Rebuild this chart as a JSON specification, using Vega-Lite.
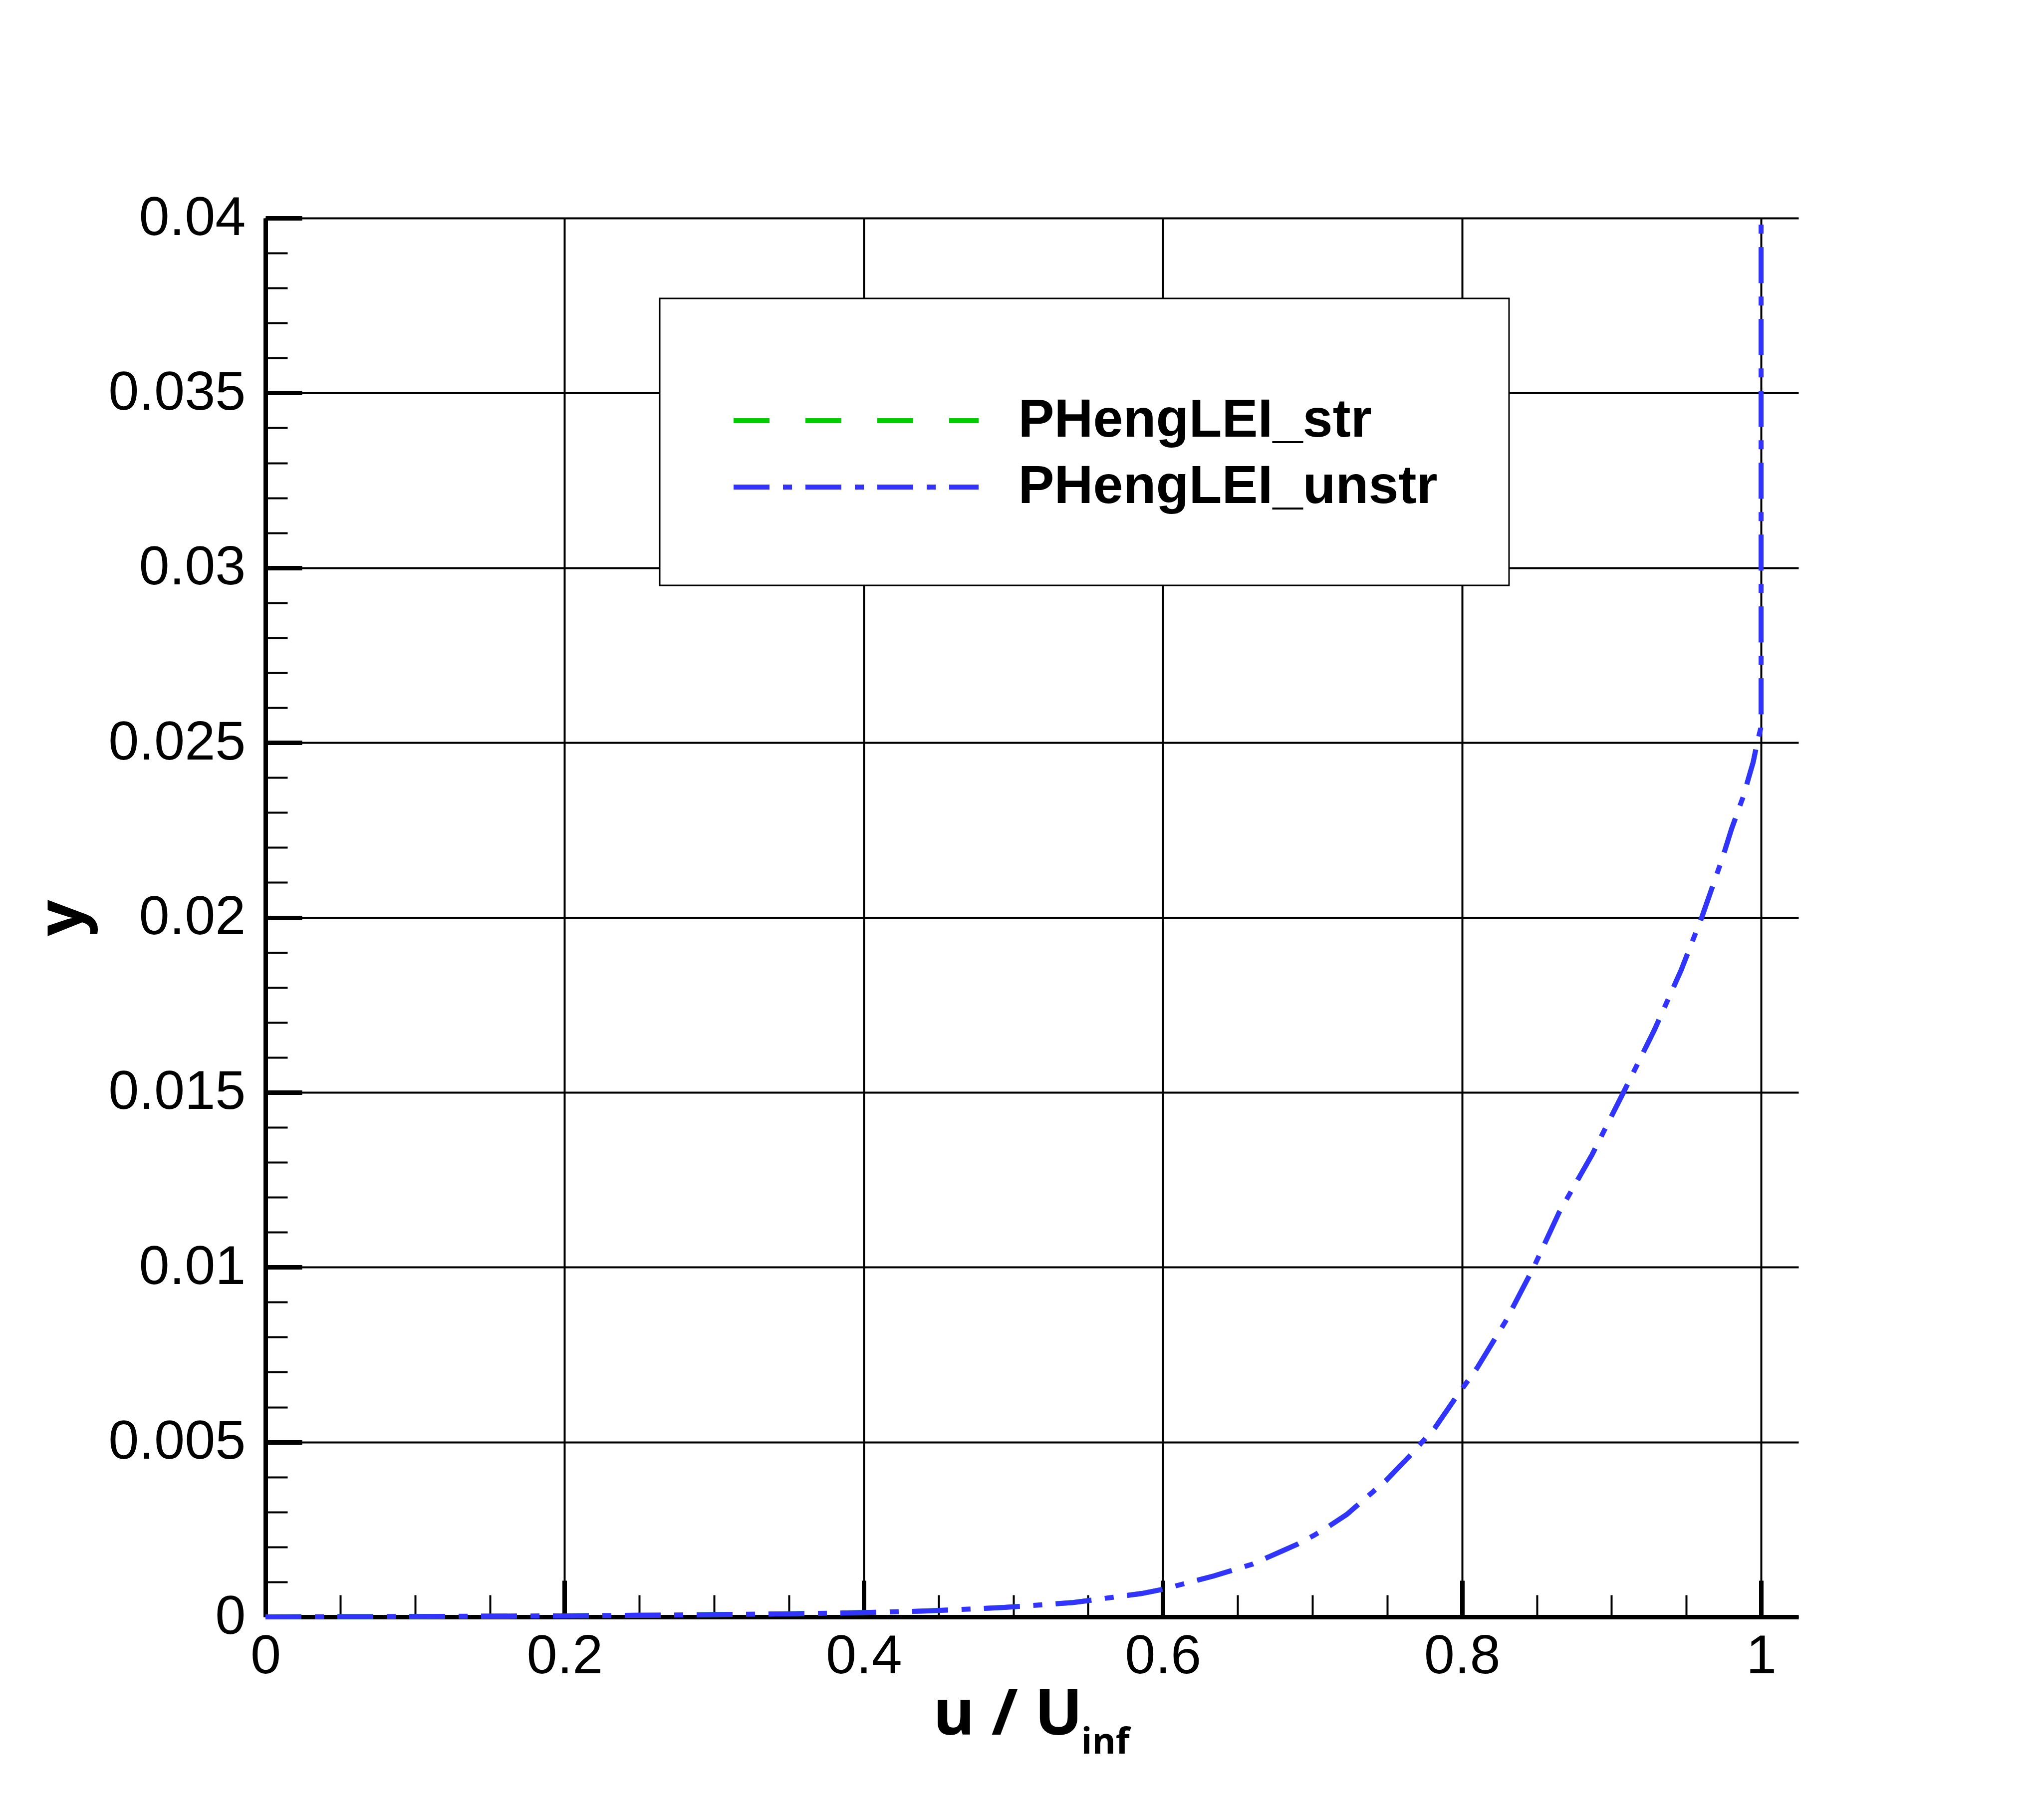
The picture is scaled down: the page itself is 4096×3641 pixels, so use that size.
{
  "$schema": "https://vega.github.io/schema/vega-lite/v6.json",
  "width": 3072,
  "height": 2803,
  "autosize": {"type": "none"},
  "padding": {"left": 532, "top": 437, "right": 492, "bottom": 401},
  "background": "white",
  "config": {
    "view": {"stroke": null},
    "legend": {"strokeWidth": 3}
  },
  "data": {
    "values": [
      {"series": "PHengLEI_str", "u": 0, "y": 0},
      {"series": "PHengLEI_str", "u": 0.1, "y": 0.000012},
      {"series": "PHengLEI_str", "u": 0.2, "y": 0.00003},
      {"series": "PHengLEI_str", "u": 0.29, "y": 0.00006},
      {"series": "PHengLEI_str", "u": 0.353, "y": 0.00009},
      {"series": "PHengLEI_str", "u": 0.397, "y": 0.00012},
      {"series": "PHengLEI_str", "u": 0.443, "y": 0.00017},
      {"series": "PHengLEI_str", "u": 0.494, "y": 0.00027},
      {"series": "PHengLEI_str", "u": 0.54, "y": 0.00041},
      {"series": "PHengLEI_str", "u": 0.586, "y": 0.00067},
      {"series": "PHengLEI_str", "u": 0.6, "y": 0.00079},
      {"series": "PHengLEI_str", "u": 0.634, "y": 0.00117},
      {"series": "PHengLEI_str", "u": 0.66, "y": 0.00151},
      {"series": "PHengLEI_str", "u": 0.68, "y": 0.00189},
      {"series": "PHengLEI_str", "u": 0.69, "y": 0.00208},
      {"series": "PHengLEI_str", "u": 0.701, "y": 0.00233},
      {"series": "PHengLEI_str", "u": 0.711, "y": 0.00259},
      {"series": "PHengLEI_str", "u": 0.723, "y": 0.00293},
      {"series": "PHengLEI_str", "u": 0.733, "y": 0.0033},
      {"series": "PHengLEI_str", "u": 0.749, "y": 0.00389},
      {"series": "PHengLEI_str", "u": 0.765, "y": 0.0046},
      {"series": "PHengLEI_str", "u": 0.774, "y": 0.00503},
      {"series": "PHengLEI_str", "u": 0.782, "y": 0.00541},
      {"series": "PHengLEI_str", "u": 0.796, "y": 0.00628},
      {"series": "PHengLEI_str", "u": 0.81, "y": 0.00711},
      {"series": "PHengLEI_str", "u": 0.829, "y": 0.00844},
      {"series": "PHengLEI_str", "u": 0.848, "y": 0.01},
      {"series": "PHengLEI_str", "u": 0.865, "y": 0.01157},
      {"series": "PHengLEI_str", "u": 0.887, "y": 0.01322},
      {"series": "PHengLEI_str", "u": 0.908, "y": 0.015},
      {"series": "PHengLEI_str", "u": 0.9285, "y": 0.01677},
      {"series": "PHengLEI_str", "u": 0.9465, "y": 0.01849},
      {"series": "PHengLEI_str", "u": 0.9603, "y": 0.02},
      {"series": "PHengLEI_str", "u": 0.9741, "y": 0.02169},
      {"series": "PHengLEI_str", "u": 0.9803, "y": 0.02254},
      {"series": "PHengLEI_str", "u": 0.988, "y": 0.02345},
      {"series": "PHengLEI_str", "u": 0.9947, "y": 0.02444},
      {"series": "PHengLEI_str", "u": 0.9975, "y": 0.02502},
      {"series": "PHengLEI_str", "u": 0.9997, "y": 0.0254},
      {"series": "PHengLEI_str", "u": 1.0, "y": 0.0258},
      {"series": "PHengLEI_str", "u": 1.0, "y": 0.028},
      {"series": "PHengLEI_str", "u": 1.0, "y": 0.032},
      {"series": "PHengLEI_str", "u": 1.0, "y": 0.036},
      {"series": "PHengLEI_str", "u": 1.0, "y": 0.04},
      {"series": "PHengLEI_unstr", "u": 0, "y": 0},
      {"series": "PHengLEI_unstr", "u": 0.1, "y": 0.000012},
      {"series": "PHengLEI_unstr", "u": 0.2, "y": 0.00003},
      {"series": "PHengLEI_unstr", "u": 0.29, "y": 0.00006},
      {"series": "PHengLEI_unstr", "u": 0.353, "y": 0.00009},
      {"series": "PHengLEI_unstr", "u": 0.397, "y": 0.00012},
      {"series": "PHengLEI_unstr", "u": 0.443, "y": 0.00017},
      {"series": "PHengLEI_unstr", "u": 0.494, "y": 0.00027},
      {"series": "PHengLEI_unstr", "u": 0.54, "y": 0.00041},
      {"series": "PHengLEI_unstr", "u": 0.586, "y": 0.00067},
      {"series": "PHengLEI_unstr", "u": 0.6, "y": 0.00079},
      {"series": "PHengLEI_unstr", "u": 0.634, "y": 0.00117},
      {"series": "PHengLEI_unstr", "u": 0.66, "y": 0.00151},
      {"series": "PHengLEI_unstr", "u": 0.68, "y": 0.00189},
      {"series": "PHengLEI_unstr", "u": 0.69, "y": 0.00208},
      {"series": "PHengLEI_unstr", "u": 0.701, "y": 0.00233},
      {"series": "PHengLEI_unstr", "u": 0.711, "y": 0.00259},
      {"series": "PHengLEI_unstr", "u": 0.723, "y": 0.00293},
      {"series": "PHengLEI_unstr", "u": 0.733, "y": 0.0033},
      {"series": "PHengLEI_unstr", "u": 0.749, "y": 0.00389},
      {"series": "PHengLEI_unstr", "u": 0.765, "y": 0.0046},
      {"series": "PHengLEI_unstr", "u": 0.774, "y": 0.00503},
      {"series": "PHengLEI_unstr", "u": 0.782, "y": 0.00541},
      {"series": "PHengLEI_unstr", "u": 0.796, "y": 0.00628},
      {"series": "PHengLEI_unstr", "u": 0.81, "y": 0.00711},
      {"series": "PHengLEI_unstr", "u": 0.829, "y": 0.00844},
      {"series": "PHengLEI_unstr", "u": 0.848, "y": 0.01},
      {"series": "PHengLEI_unstr", "u": 0.865, "y": 0.01157},
      {"series": "PHengLEI_unstr", "u": 0.887, "y": 0.01322},
      {"series": "PHengLEI_unstr", "u": 0.908, "y": 0.015},
      {"series": "PHengLEI_unstr", "u": 0.9285, "y": 0.01677},
      {"series": "PHengLEI_unstr", "u": 0.9465, "y": 0.01849},
      {"series": "PHengLEI_unstr", "u": 0.9603, "y": 0.02},
      {"series": "PHengLEI_unstr", "u": 0.9741, "y": 0.02169},
      {"series": "PHengLEI_unstr", "u": 0.9803, "y": 0.02254},
      {"series": "PHengLEI_unstr", "u": 0.988, "y": 0.02345},
      {"series": "PHengLEI_unstr", "u": 0.9947, "y": 0.02444},
      {"series": "PHengLEI_unstr", "u": 0.9975, "y": 0.02502},
      {"series": "PHengLEI_unstr", "u": 0.9997, "y": 0.0254},
      {"series": "PHengLEI_unstr", "u": 1.0, "y": 0.0258},
      {"series": "PHengLEI_unstr", "u": 1.0, "y": 0.028},
      {"series": "PHengLEI_unstr", "u": 1.0, "y": 0.032},
      {"series": "PHengLEI_unstr", "u": 1.0, "y": 0.036},
      {"series": "PHengLEI_unstr", "u": 1.0, "y": 0.04}
    ]
  },
  "layer": [
    {
      "transform": [{"filter": "datum.series === 'PHengLEI_str'"}],
      "mark": {"type": "line", "opacity": 0},
      "encoding": {
        "x": {
          "field": "u", "type": "quantitative",
          "scale": {"domain": [0, 1.025], "nice": false, "zero": false},
          "axis": {
            "orient": "bottom",
            "values": [0.05, 0.1, 0.15, 0.25, 0.3, 0.35, 0.45, 0.5, 0.55, 0.65, 0.7, 0.75, 0.85, 0.9, 0.95],
            "domain": false, "labels": false, "grid": false,
            "ticks": true, "tickSize": -44, "tickWidth": 4, "tickColor": "black", "tickOpacity": 1,
            "title": null
          }
        },
        "y": {
          "field": "y", "type": "quantitative",
          "scale": {"domain": [0, 0.04], "nice": false, "zero": false},
          "axis": {
            "orient": "left",
            "values": [0.001, 0.002, 0.003, 0.004, 0.006, 0.007, 0.008, 0.009, 0.011, 0.012, 0.013, 0.014, 0.016, 0.017, 0.018, 0.019, 0.021, 0.022, 0.023, 0.024, 0.026, 0.027, 0.028, 0.029, 0.031, 0.032, 0.033, 0.034, 0.036, 0.037, 0.038, 0.039],
            "domain": false, "labels": false, "grid": false,
            "ticks": true, "tickSize": -44, "tickWidth": 4, "tickColor": "black", "tickOpacity": 1,
            "title": null
          }
        },
        "order": {"field": "y", "type": "quantitative"}
      }
    },
    {
      "transform": [{"filter": "datum.series === 'PHengLEI_str'"}],
      "mark": {"type": "line", "strokeWidth": 10, "strokeCap": "butt"},
      "encoding": {
        "x": {
          "field": "u", "type": "quantitative",
          "scale": {"domain": [0, 1.025], "nice": false, "zero": false},
          "axis": {
            "orient": "bottom",
            "values": [0, 0.2, 0.4, 0.6, 0.8, 1],
            "domain": false, "labels": false,
            "ticks": true, "tickSize": -73, "tickWidth": 9, "tickColor": "black", "tickOpacity": 1,
            "grid": true, "gridColor": "black", "gridWidth": 4, "gridOpacity": 1,
            "title": "inf", "titleFont": "Open Sans", "titleFontWeight": "bold", "titleFontSize": 72,
            "titleColor": "black", "titleX": 1634, "titleY": 273, "titleAlign": "left", "titleBaseline": "alphabetic"
          }
        },
        "y": {
          "field": "y", "type": "quantitative",
          "scale": {"domain": [0, 0.04], "nice": false, "zero": false},
          "axis": {
            "orient": "left",
            "values": [0, 0.005, 0.01, 0.015, 0.02, 0.025, 0.03, 0.035, 0.04],
            "domain": false, "labels": false,
            "ticks": true, "tickSize": -73, "tickWidth": 9, "tickColor": "black", "tickOpacity": 1,
            "grid": true, "gridColor": "black", "gridWidth": 4, "gridOpacity": 1,
            "title": null
          }
        },
        "color": {
          "field": "series", "type": "nominal",
          "scale": {"domain": ["PHengLEI_str", "PHengLEI_unstr"], "range": ["#00CC00", "#3333FF"]},
          "legend": {
            "orient": "none", "legendX": 790, "legendY": 161,
            "title": " ", "titleFontSize": 31, "titlePadding": 12,
            "padding": 143, "fillColor": "white", "strokeColor": "black",
            "symbolType": "M-4.546,0H4.546", "symbolSize": 11664, "symbolStrokeWidth": 10, "symbolOpacity": 1,
            "symbolOffset": 191.5,
            "labelFont": "Liberation Sans", "labelFontWeight": "bold", "labelFontSize": 108,
            "labelColor": "black", "labelLimit": 3000, "labelOffset": 266, "rowPadding": 20
          }
        },
        "strokeDash": {
          "field": "series", "type": "nominal",
          "scale": {"domain": ["PHengLEI_str", "PHengLEI_unstr"], "range": [[72, 72], [72, 27, 18, 27]]},
          "legend": {
            "orient": "none", "legendX": 790, "legendY": 161,
            "title": " ", "titleFontSize": 31, "titlePadding": 12,
            "padding": 143, "fillColor": "white", "strokeColor": "black",
            "symbolType": "M-4.546,0H4.546", "symbolSize": 11664, "symbolStrokeWidth": 10, "symbolOpacity": 1,
            "symbolOffset": 191.5,
            "labelFont": "Liberation Sans", "labelFontWeight": "bold", "labelFontSize": 108,
            "labelColor": "black", "labelLimit": 3000, "labelOffset": 266, "rowPadding": 20
          }
        },
        "order": {"field": "y", "type": "quantitative"}
      }
    },
    {
      "transform": [{"filter": "datum.series === 'PHengLEI_unstr'"}],
      "mark": {"type": "line", "strokeWidth": 10, "strokeCap": "butt"},
      "encoding": {
        "x": {
          "field": "u", "type": "quantitative",
          "scale": {"domain": [0, 1.025], "nice": false, "zero": false},
          "axis": {
            "orient": "bottom",
            "values": [0, 0.2, 0.4, 0.6, 0.8, 1],
            "format": "~g",
            "domain": true, "domainColor": "black", "domainWidth": 9, "domainOpacity": 1,
            "ticks": false, "tickSize": 0, "grid": false,
            "labels": true, "labelFont": "Liberation Sans", "labelFontSize": 110, "labelColor": "black",
            "labelPadding": 25, "labelFlush": false, "labelOverlap": false, "labelBound": false, "labelLimit": 1000,
            "title": "u / U", "titleFont": "Open Sans", "titleFontWeight": "bold", "titleFontSize": 128,
            "titleColor": "black", "titleX": 1487, "titleY": 235, "titleAlign": "center", "titleBaseline": "alphabetic"
          }
        },
        "y": {
          "field": "y", "type": "quantitative",
          "scale": {"domain": [0, 0.04], "nice": false, "zero": false},
          "axis": {
            "orient": "left",
            "values": [0, 0.005, 0.01, 0.015, 0.02, 0.025, 0.03, 0.035, 0.04],
            "format": "~g",
            "domain": true, "domainColor": "black", "domainWidth": 9, "domainOpacity": 1,
            "ticks": false, "tickSize": 0, "grid": false,
            "labels": true, "labelFont": "Liberation Sans", "labelFontSize": 110, "labelColor": "black",
            "labelPadding": 40, "labelFlush": false, "labelOverlap": false, "labelBound": false, "labelLimit": 1000,
            "title": "y", "titleFont": "Open Sans", "titleFontWeight": "bold", "titleFontSize": 128,
            "titleColor": "black", "titleX": -368, "titleY": 1402, "titleAngle": 270,
            "titleAlign": "center", "titleBaseline": "alphabetic"
          }
        },
        "color": {
          "field": "series", "type": "nominal",
          "scale": {"domain": ["PHengLEI_str", "PHengLEI_unstr"], "range": ["#00CC00", "#3333FF"]},
          "legend": {
            "orient": "none", "legendX": 790, "legendY": 161,
            "title": " ", "titleFontSize": 31, "titlePadding": 12,
            "padding": 143, "fillColor": "white", "strokeColor": "black",
            "symbolType": "M-4.546,0H4.546", "symbolSize": 11664, "symbolStrokeWidth": 10, "symbolOpacity": 1,
            "symbolOffset": 191.5,
            "labelFont": "Liberation Sans", "labelFontWeight": "bold", "labelFontSize": 108,
            "labelColor": "black", "labelLimit": 3000, "labelOffset": 266, "rowPadding": 20
          }
        },
        "strokeDash": {
          "field": "series", "type": "nominal",
          "scale": {"domain": ["PHengLEI_str", "PHengLEI_unstr"], "range": [[72, 72], [72, 27, 18, 27]]},
          "legend": {
            "orient": "none", "legendX": 790, "legendY": 161,
            "title": " ", "titleFontSize": 31, "titlePadding": 12,
            "padding": 143, "fillColor": "white", "strokeColor": "black",
            "symbolType": "M-4.546,0H4.546", "symbolSize": 11664, "symbolStrokeWidth": 10, "symbolOpacity": 1,
            "symbolOffset": 191.5,
            "labelFont": "Liberation Sans", "labelFontWeight": "bold", "labelFontSize": 108,
            "labelColor": "black", "labelLimit": 3000, "labelOffset": 266, "rowPadding": 20
          }
        },
        "order": {"field": "y", "type": "quantitative"}
      }
    }
  ],
  "resolve": {"axis": {"x": "independent", "y": "independent"}}
}
